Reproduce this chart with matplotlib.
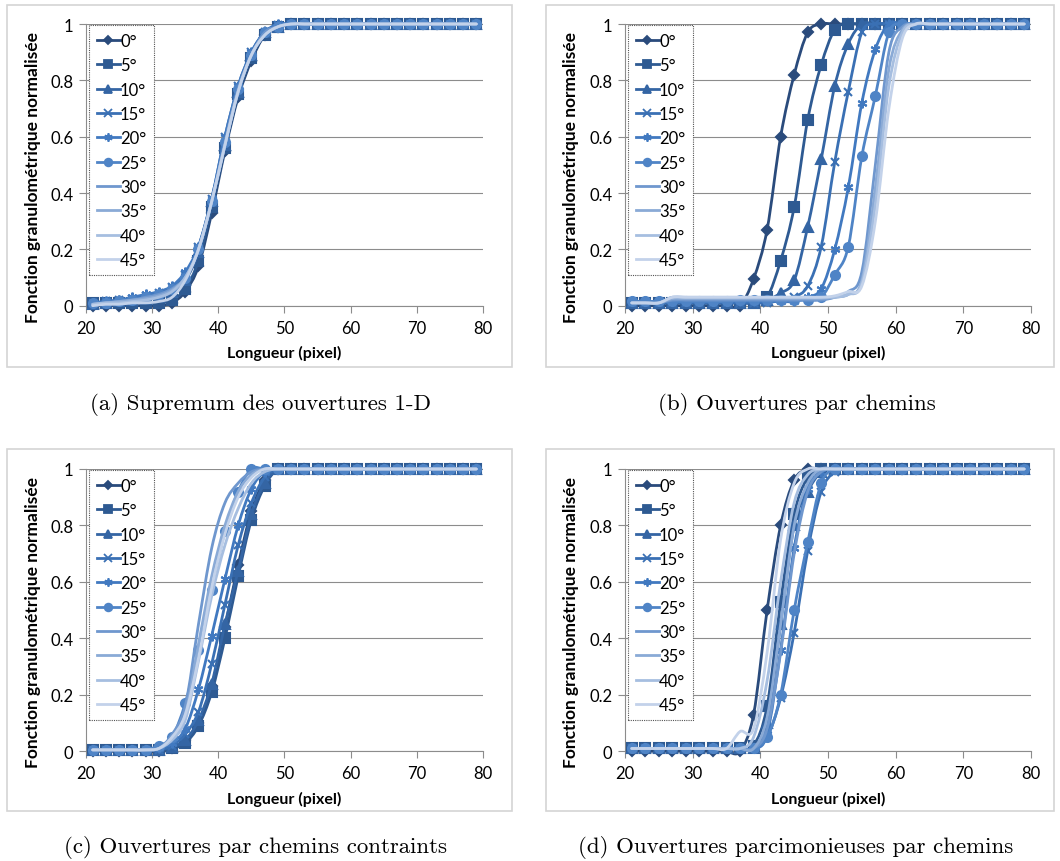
import matplotlib
matplotlib.use("Agg")
import matplotlib.pyplot as plt
from matplotlib.path import Path
from matplotlib.patches import PathPatch, Rectangle
from matplotlib.lines import Line2D

plt.rcParams['font.family'] = ['Lato', 'DejaVu Sans']

# longueurs mesurées (pixel)
longueurs = [21, 23, 25, 27, 29, 31, 33, 35, 37, 39, 41, 43, 45, 47, 49,
             51, 53, 55, 57, 59, 61, 63, 65, 67, 69, 71, 73, 75, 77, 79]
angles = ["0°", "5°", "10°", "15°", "20°", "25°", "30°", "35°", "40°", "45°"]
couleurs = ["#2a4b7c", "#2e5a92", "#3465a4", "#3a70b4", "#4179c0",
            "#4f84c6", "#6f97ce", "#8aaad6", "#a6bee0", "#c3d2ea"]
marqueurs = ["D", "s", "^", "x", (6, 2, 0), "o", None, None, None, None]
tailles = [5, 7, 7, 6, 7, 6.5, 0, 0, 0, 0]

# (a) Supremum des ouvertures 1-D
supremum_1d = [
    [0, 0, 0, 0, 0, 0, 0.01, 0.05, 0.14, 0.33, 0.55, 0.74, 0.87, 0.96, 0.99, 1, 1, 1, 1, 1, 1, 1, 1, 1, 1, 1, 1, 1, 1, 1],
    [0.01, 0.01, 0.01, 0.01, 0.01, 0.01, 0.02, 0.06, 0.16, 0.35, 0.56, 0.75, 0.88, 0.96, 0.99, 1, 1, 1, 1, 1, 1, 1, 1, 1, 1, 1, 1, 1, 1, 1],
    [0.005, 0.01, 0.015, 0.02, 0.025, 0.03, 0.05, 0.09, 0.19, 0.37, 0.57, 0.76, 0.89, 0.97, 0.99, 1, 1, 1, 1, 1, 1, 1, 1, 1, 1, 1, 1, 1, 1, 1],
    [0.01, 0.015, 0.02, 0.025, 0.035, 0.045, 0.065, 0.11, 0.21, 0.38, 0.6, 0.78, 0.9, 0.97, 0.995, 1, 1, 1, 1, 1, 1, 1, 1, 1, 1, 1, 1, 1, 1, 1],
    [0.01, 0.015, 0.02, 0.03, 0.04, 0.05, 0.07, 0.12, 0.21, 0.38, 0.6, 0.78, 0.9, 0.97, 1, 1, 1, 1, 1, 1, 1, 1, 1, 1, 1, 1, 1, 1, 1, 1],
    [0.01, 0.01, 0.015, 0.02, 0.03, 0.04, 0.06, 0.1, 0.2, 0.37, 0.58, 0.77, 0.89, 0.97, 0.99, 1, 1, 1, 1, 1, 1, 1, 1, 1, 1, 1, 1, 1, 1, 1],
    [0.005, 0.01, 0.015, 0.02, 0.03, 0.04, 0.06, 0.1, 0.2, 0.37, 0.58, 0.77, 0.89, 0.97, 0.99, 1, 1, 1, 1, 1, 1, 1, 1, 1, 1, 1, 1, 1, 1, 1],
    [0.005, 0.01, 0.015, 0.02, 0.025, 0.035, 0.055, 0.1, 0.2, 0.37, 0.57, 0.76, 0.89, 0.96, 0.99, 1, 1, 1, 1, 1, 1, 1, 1, 1, 1, 1, 1, 1, 1, 1],
    [0.005, 0.01, 0.01, 0.015, 0.02, 0.03, 0.05, 0.1, 0.2, 0.37, 0.57, 0.76, 0.89, 0.96, 0.99, 1, 1, 1, 1, 1, 1, 1, 1, 1, 1, 1, 1, 1, 1, 1],
    [0, 0.005, 0.005, 0.01, 0.01, 0.015, 0.03, 0.09, 0.2, 0.37, 0.57, 0.76, 0.89, 0.96, 0.99, 1, 1, 1, 1, 1, 1, 1, 1, 1, 1, 1, 1, 1, 1, 1],
]

# (b) Ouvertures par chemins
chemins = [
    [0, 0, 0, 0, 0, 0, 0, 0, 0, 0.095, 0.27, 0.6, 0.82, 0.97, 1, 1, 1, 1, 1, 1, 1, 1, 1, 1, 1, 1, 1, 1, 1, 1],
    [0.01, 0.01, 0.01, 0.01, 0.01, 0.01, 0.01, 0.01, 0.01, 0.01, 0.03, 0.16, 0.35, 0.66, 0.855, 0.98, 1, 1, 1, 1, 1, 1, 1, 1, 1, 1, 1, 1, 1, 1],
    [0.01, 0.01, 0.01, 0.01, 0.01, 0.01, 0.01, 0.01, 0.01, 0.01, 0.02, 0.045, 0.09, 0.28, 0.52, 0.78, 0.93, 1, 1, 1, 1, 1, 1, 1, 1, 1, 1, 1, 1, 1],
    [0.01, 0.01, 0.01, 0.01, 0.01, 0.01, 0.01, 0.01, 0.01, 0.01, 0.01, 0.02, 0.03, 0.07, 0.21, 0.51, 0.76, 0.97, 1, 1, 1, 1, 1, 1, 1, 1, 1, 1, 1, 1],
    [0.015, 0.015, 0.015, 0.015, 0.015, 0.015, 0.015, 0.015, 0.015, 0.015, 0.015, 0.015, 0.015, 0.03, 0.06, 0.2, 0.42, 0.72, 0.91, 1, 1, 1, 1, 1, 1, 1, 1, 1, 1, 1],
    [0.015, 0.015, 0.015, 0.015, 0.015, 0.015, 0.015, 0.015, 0.02, 0.02, 0.02, 0.02, 0.02, 0.02, 0.03, 0.11, 0.21, 0.53, 0.745, 0.97, 1, 1, 1, 1, 1, 1, 1, 1, 1, 1],
    [0.01, 0.01, 0.01, 0.02, 0.02, 0.02, 0.02, 0.02, 0.02, 0.02, 0.02, 0.02, 0.02, 0.02, 0.02, 0.03, 0.05, 0.12, 0.5, 0.9, 0.99, 1, 1, 1, 1, 1, 1, 1, 1, 1],
    [0.01, 0.01, 0.01, 0.025, 0.025, 0.025, 0.025, 0.025, 0.025, 0.025, 0.025, 0.025, 0.025, 0.025, 0.025, 0.03, 0.04, 0.09, 0.42, 0.84, 0.98, 1, 1, 1, 1, 1, 1, 1, 1, 1],
    [0.01, 0.01, 0.01, 0.03, 0.03, 0.03, 0.03, 0.03, 0.03, 0.03, 0.03, 0.03, 0.03, 0.03, 0.03, 0.03, 0.04, 0.08, 0.36, 0.78, 0.97, 1, 1, 1, 1, 1, 1, 1, 1, 1],
    [0.01, 0.01, 0.01, 0.03, 0.03, 0.03, 0.03, 0.03, 0.03, 0.03, 0.03, 0.03, 0.03, 0.03, 0.03, 0.035, 0.05, 0.07, 0.3, 0.7, 0.95, 1, 1, 1, 1, 1, 1, 1, 1, 1],
]

# (c) Ouvertures par chemins contraints
chemins_contraints = [
    [0, 0, 0, 0, 0, 0, 0.01, 0.04, 0.1, 0.23, 0.44, 0.66, 0.85, 0.96, 1, 1, 1, 1, 1, 1, 1, 1, 1, 1, 1, 1, 1, 1, 1, 1],
    [0.005, 0.005, 0.005, 0.005, 0.005, 0.005, 0.01, 0.03, 0.09, 0.21, 0.4, 0.62, 0.82, 0.94, 1, 1, 1, 1, 1, 1, 1, 1, 1, 1, 1, 1, 1, 1, 1, 1],
    [0.005, 0.005, 0.005, 0.005, 0.005, 0.005, 0.015, 0.04, 0.11, 0.24, 0.45, 0.64, 0.84, 0.95, 1, 1, 1, 1, 1, 1, 1, 1, 1, 1, 1, 1, 1, 1, 1, 1],
    [0.005, 0.005, 0.005, 0.005, 0.005, 0.005, 0.02, 0.06, 0.14, 0.31, 0.52, 0.73, 0.88, 0.97, 1, 1, 1, 1, 1, 1, 1, 1, 1, 1, 1, 1, 1, 1, 1, 1],
    [0.005, 0.005, 0.005, 0.005, 0.005, 0.01, 0.03, 0.08, 0.22, 0.41, 0.61, 0.8, 0.93, 0.99, 1, 1, 1, 1, 1, 1, 1, 1, 1, 1, 1, 1, 1, 1, 1, 1],
    [0.005, 0.005, 0.005, 0.005, 0.005, 0.02, 0.05, 0.17, 0.36, 0.57, 0.78, 0.92, 1, 1, 1, 1, 1, 1, 1, 1, 1, 1, 1, 1, 1, 1, 1, 1, 1, 1],
    [0.005, 0.005, 0.005, 0.005, 0.005, 0.01, 0.06, 0.16, 0.45, 0.72, 0.88, 0.95, 0.99, 1, 1, 1, 1, 1, 1, 1, 1, 1, 1, 1, 1, 1, 1, 1, 1, 1],
    [0.005, 0.005, 0.005, 0.005, 0.005, 0.01, 0.05, 0.13, 0.38, 0.62, 0.8, 0.92, 0.98, 1, 1, 1, 1, 1, 1, 1, 1, 1, 1, 1, 1, 1, 1, 1, 1, 1],
    [0.005, 0.005, 0.005, 0.005, 0.005, 0.01, 0.04, 0.11, 0.32, 0.55, 0.73, 0.86, 0.95, 0.99, 1, 1, 1, 1, 1, 1, 1, 1, 1, 1, 1, 1, 1, 1, 1, 1],
    [0.005, 0.005, 0.005, 0.005, 0.005, 0.01, 0.05, 0.13, 0.33, 0.58, 0.77, 0.9, 0.97, 1, 1, 1, 1, 1, 1, 1, 1, 1, 1, 1, 1, 1, 1, 1, 1, 1],
]

# (d) Ouvertures parcimonieuses par chemins
parcimonieuses = [
    [0, 0, 0, 0, 0, 0, 0, 0, 0, 0.13, 0.5, 0.8, 0.96, 1, 1, 1, 1, 1, 1, 1, 1, 1, 1, 1, 1, 1, 1, 1, 1, 1],
    [0.01, 0.01, 0.01, 0.01, 0.01, 0.01, 0.01, 0.01, 0.01, 0.02, 0.16, 0.53, 0.84, 0.97, 1, 1, 1, 1, 1, 1, 1, 1, 1, 1, 1, 1, 1, 1, 1, 1],
    [0.01, 0.01, 0.01, 0.01, 0.01, 0.01, 0.01, 0.01, 0.01, 0.01, 0.1, 0.45, 0.8, 0.92, 0.99, 1, 1, 1, 1, 1, 1, 1, 1, 1, 1, 1, 1, 1, 1, 1],
    [0.01, 0.01, 0.01, 0.01, 0.01, 0.01, 0.01, 0.01, 0.01, 0.01, 0.05, 0.19, 0.42, 0.71, 0.92, 0.99, 1, 1, 1, 1, 1, 1, 1, 1, 1, 1, 1, 1, 1, 1],
    [0.01, 0.01, 0.01, 0.01, 0.01, 0.01, 0.01, 0.01, 0.01, 0.01, 0.06, 0.36, 0.72, 0.93, 0.99, 1, 1, 1, 1, 1, 1, 1, 1, 1, 1, 1, 1, 1, 1, 1],
    [0.01, 0.01, 0.01, 0.01, 0.01, 0.01, 0.01, 0.01, 0.01, 0.01, 0.05, 0.2, 0.5, 0.74, 0.95, 1, 1, 1, 1, 1, 1, 1, 1, 1, 1, 1, 1, 1, 1, 1],
    [0.01, 0.01, 0.01, 0.01, 0.01, 0.01, 0.01, 0.01, 0.01, 0.01, 0.08, 0.35, 0.7, 0.92, 0.99, 1, 1, 1, 1, 1, 1, 1, 1, 1, 1, 1, 1, 1, 1, 1],
    [0.01, 0.01, 0.01, 0.01, 0.01, 0.01, 0.01, 0.01, 0.01, 0.01, 0.12, 0.45, 0.8, 0.95, 1, 1, 1, 1, 1, 1, 1, 1, 1, 1, 1, 1, 1, 1, 1, 1],
    [0.01, 0.01, 0.01, 0.01, 0.01, 0.01, 0.01, 0.01, 0.01, 0.05, 0.25, 0.6, 0.88, 0.98, 1, 1, 1, 1, 1, 1, 1, 1, 1, 1, 1, 1, 1, 1, 1, 1],
    [0.01, 0.01, 0.01, 0.01, 0.01, 0.01, 0.01, 0.01, 0.07, 0.08, 0.35, 0.75, 0.95, 1, 1, 1, 1, 1, 1, 1, 1, 1, 1, 1, 1, 1, 1, 1, 1, 1],
]

legendes = ["(a) Supremum des ouvertures 1-D", "(b) Ouvertures par chemins",
            "(c) Ouvertures par chemins contraints", "(d) Ouvertures parcimonieuses par chemins"]

W, H = 1060, 862
GRIS = "#8c8c8c"


def courbe_lissee(xs, ys):
    # lissage type Excel (Bezier / Catmull-Rom) entre les points mesurés
    n = len(xs)
    verts = [(xs[0], ys[0])]
    codes = [Path.MOVETO]
    for i in range(n - 1):
        a = i - 1 if i > 0 else i
        d = i + 2 if i + 2 < n else i + 1
        c1 = (xs[i] + (xs[i + 1] - xs[a]) / 6, ys[i] + (ys[i + 1] - ys[a]) / 6)
        c2 = (xs[i + 1] - (xs[d] - xs[i]) / 6, ys[i + 1] - (ys[d] - ys[i]) / 6)
        verts += [c1, c2, (xs[i + 1], ys[i + 1])]
        codes += [Path.CURVE4] * 3
    return Path(verts, codes)


def fig_rect(x0, y0, x1, y1):
    return [x0 / W, 1 - y1 / H, (x1 - x0) / W, (y1 - y0) / H]


fig = plt.figure(figsize=(W / 100, H / 100), dpi=100)

panneaux = [
    (supremum_1d, (86, 25, 483, 306.7), (7, 6, 512, 368), (261, 405)),
    (chemins, (625, 25, 1031, 306.7), (546, 6, 1054, 368), (797, 405)),
    (chemins_contraints, (86, 470, 483, 752.3), (7, 450, 512, 812), (256, 848)),
    (parcimonieuses, (625, 470, 1031, 752.3), (546, 450, 1054, 812), (796, 848)),
]

for k, (series, zone, cadre, pos_leg) in enumerate(panneaux):
    # cadre du graphique
    fig.add_artist(Rectangle((cadre[0] / W, 1 - cadre[3] / H), (cadre[2] - cadre[0]) / W,
                             (cadre[3] - cadre[1]) / H, transform=fig.transFigure,
                             fill=False, ec="#d4d4d4", lw=1.2))
    ax = fig.add_axes(fig_rect(*zone))
    ax.set_xlim(20, 80)
    ax.set_ylim(0, 1)
    ax.set_xticks([20, 30, 40, 50, 60, 70, 80])
    ax.set_yticks([0, 0.2, 0.4, 0.6, 0.8, 1])
    ax.set_yticklabels(["0", "0.2", "0.4", "0.6", "0.8", "1"])
    ax.grid(axis="y", color=GRIS, lw=0.8)
    ax.set_axisbelow(True)
    for s in ["top", "right"]:
        ax.spines[s].set_visible(False)
    for s in ["left", "bottom"]:
        ax.spines[s].set_color(GRIS)
        ax.spines[s].set_linewidth(0.8)
    ax.tick_params(direction="out", length=5, color=GRIS, width=0.8, labelsize=12)
    ax.tick_params(axis="x", pad=5)
    ax.tick_params(axis="y", pad=4)

    for i, y in enumerate(series):
        patch = PathPatch(courbe_lissee(longueurs, y), fill=False, ec=couleurs[i], lw=2.0,
                          capstyle="round", joinstyle="round", clip_on=False, zorder=3 + i)
        ax.add_patch(patch)
        if marqueurs[i] is not None:
            ax.plot(longueurs, y, ls="none", marker=marqueurs[i], ms=tailles[i], color=couleurs[i],
                    mew=1.5, clip_on=False, zorder=3 + i)

    poignees = [Line2D([], [], color=couleurs[i], lw=2.0, marker=marqueurs[i] or "",
                       ms=tailles[i] * 0.85, mew=1.3) for i in range(10)]
    leg = ax.legend(poignees, angles, loc="upper left", bbox_to_anchor=(0.008, 0.995),
                    fontsize=12, handlelength=1.4, handletextpad=0.0, labelspacing=0.5,
                    borderpad=0.45, fancybox=False, borderaxespad=0, framealpha=1)
    leg.get_frame().set_edgecolor("#555555")
    leg.get_frame().set_linestyle((0, (1, 1)))
    leg.get_frame().set_linewidth(0.8)
    leg.set_zorder(20)

    ax.set_xlabel("Longueur (pixel)", fontsize=11.5, fontweight="bold")
    ax.xaxis.set_label_coords(0.5, -0.14)
    ax.set_ylabel("Fonction granulométrique normalisée", fontsize=12.5, fontweight="bold")
    ax.yaxis.set_label_coords(-0.113, 0.46)

    fig.text(pos_leg[0] / W, 1 - pos_leg[1] / H, legendes[k], family="cmr10",
             fontsize=16.5, ha="center", va="center")

fig.savefig("out.png", dpi=100)
